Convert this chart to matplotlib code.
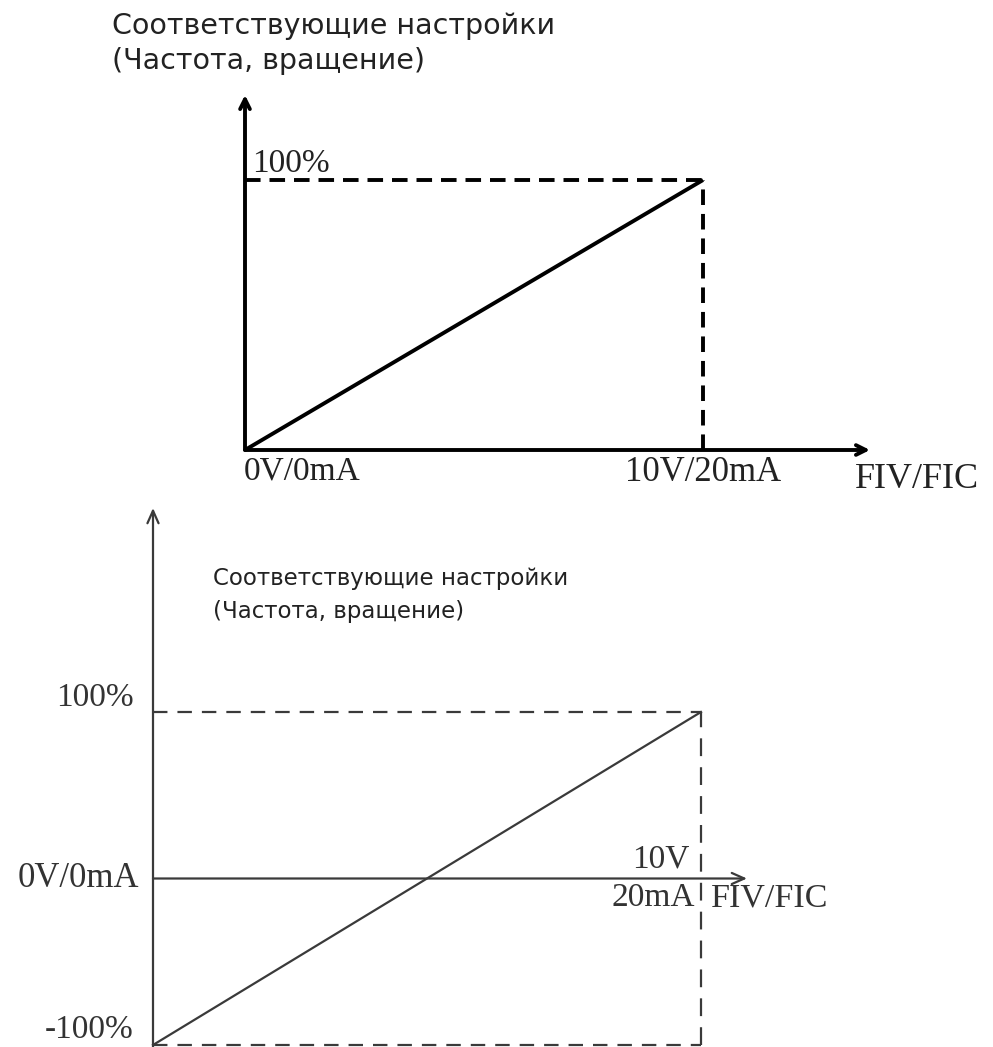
import matplotlib
matplotlib.use("Agg")
import matplotlib.pyplot as plt

# ---- data ----
x_input = [0, 10]            # input signal (V), 10V == 20mA
top_output = [0, 100]        # % setting, unipolar
bottom_output = [-100, 100]  # % setting, bipolar
title_text = "Соответствующие настройки\n(Частота, вращение)"
top_labels = ["0V/0mA", "10V/20mA", "FIV/FIC", "100%"]
bottom_labels = ["0V/0mA", "10V", "20mA", "FIV/FIC", "100%", "-100%"]

W, H = 993, 1047
fig = plt.figure(figsize=(W / 100, H / 100), dpi=100)
fig.patch.set_facecolor("white")


def px_axes(left, top, right, bottom):
    return fig.add_axes([left / W, 1 - bottom / H, (right - left) / W, (bottom - top) / H])


serif = "Liberation Serif"
sans = "DejaVu Sans"

# ================= TOP CHART =================
ax1 = px_axes(245, 95, 870, 450)
x1max = 10 * (870 - 245) / (703 - 245)
y1max = 100 * (450 - 95) / (450 - 180)
ax1.set_xlim(0, x1max)
ax1.set_ylim(0, y1max)
ax1.axis("off")
k1 = "black"
lw1 = 2.8
ax1.annotate("", xy=(x1max, 0), xytext=(0, 0),
             arrowprops=dict(arrowstyle="->,head_length=0.7,head_width=0.35", lw=lw1, color=k1,
                             shrinkA=0, shrinkB=0), annotation_clip=False)
ax1.annotate("", xy=(0, y1max), xytext=(0, 0),
             arrowprops=dict(arrowstyle="->,head_length=0.7,head_width=0.35", lw=lw1, color=k1,
                             shrinkA=0, shrinkB=0), annotation_clip=False)
ax1.plot([0, x_input[1]], [top_output[1]] * 2, color=k1, lw=lw1, dashes=(4, 2.3), clip_on=False)
ax1.plot([x_input[1]] * 2, [0, top_output[1]], color=k1, lw=lw1, dashes=(4, 2.3), clip_on=False)
ax1.plot(x_input, top_output, color=k1, lw=lw1, clip_on=False, solid_capstyle="butt")

ax1.annotate(top_labels[3], xy=(0, top_output[1]), xytext=(5, 1), textcoords="offset points",
             ha="left", va="bottom", fontsize=24, family=serif, color="#222222")
ax1.annotate(top_labels[0], xy=(0, 0), xytext=(-1, -4), textcoords="offset points",
             ha="left", va="top", fontsize=24, family=serif, color="#222222")
ax1.annotate(top_labels[1], xy=(x_input[1], 0), xytext=(0, -4), textcoords="offset points",
             ha="center", va="top", fontsize=25, family=serif, color="#222222")
ax1.annotate(top_labels[2], xy=(x1max, 0), xytext=(-11, -9), textcoords="offset points",
             ha="left", va="top", fontsize=26, family=serif, color="#222222")

fig.text(112 / W, 1 - 12 / H, title_text, ha="left", va="top", fontsize=20.5,
         family=sans, color="#222222", linespacing=1.3)

# ================= BOTTOM CHART =================
ax2 = px_axes(153, 508, 747, 1045)
ppu = (1045 - 712) / 200.0
x2max = 10 * (747 - 153) / (701 - 153)
y2max = 100 + (712 - 508) / ppu
ax2.set_xlim(0, x2max)
ax2.set_ylim(-100, y2max)
ax2.axis("off")
k2 = "#3a3a3a"
lw2 = 1.6
ax2.annotate("", xy=(x2max, 0), xytext=(0, 0),
             arrowprops=dict(arrowstyle="->,head_length=0.9,head_width=0.4", lw=lw2, color=k2,
                             shrinkA=0, shrinkB=0), annotation_clip=False)
ax2.annotate("", xy=(0, y2max), xytext=(0, -101.5),
             arrowprops=dict(arrowstyle="->,head_length=0.9,head_width=0.4", lw=lw2, color=k2,
                             shrinkA=0, shrinkB=0), annotation_clip=False)
ax2.plot([0, x_input[1]], [bottom_output[1]] * 2, color=k2, lw=lw2, dashes=(6.5, 4.5), clip_on=False)
ax2.plot([0, x_input[1]], [bottom_output[0]] * 2, color=k2, lw=lw2, dashes=(6.5, 4.5), clip_on=False)
ax2.plot([x_input[1]] * 2, [bottom_output[0], bottom_output[1]], color=k2, lw=lw2,
         dashes=(8, 5), clip_on=False)
ax2.plot(x_input, bottom_output, color=k2, lw=lw2, clip_on=False)

ax2.annotate(bottom_labels[4], xy=(0, bottom_output[1]), xytext=(-14, -1), textcoords="offset points",
             ha="right", va="bottom", fontsize=24, family=serif, color="#333333")
ax2.annotate(bottom_labels[5], xy=(0, bottom_output[0]), xytext=(-14, 0), textcoords="offset points",
             ha="right", va="bottom", fontsize=24, family=serif, color="#333333")
ax2.annotate(bottom_labels[0], xy=(0, 0), xytext=(-10, 0), textcoords="offset points",
             ha="right", va="center", fontsize=25, family=serif, color="#333333")
ax2.annotate(bottom_labels[1], xy=(x_input[1], 0), xytext=(-8, 3), textcoords="offset points",
             ha="right", va="bottom", fontsize=24, family=serif, color="#333333")
ax2.annotate(bottom_labels[2], xy=(x_input[1], 0), xytext=(-4, -3), textcoords="offset points",
             ha="right", va="top", fontsize=24, family=serif, color="#333333")
ax2.annotate(bottom_labels[3], xy=(x_input[1], 0), xytext=(7, -3), textcoords="offset points",
             ha="left", va="top", fontsize=24.5, family=serif, color="#333333")

fig.text(213 / W, 1 - 567 / H, title_text, ha="left", va="top", fontsize=16.5,
         family=sans, color="#222222", linespacing=1.55)

fig.savefig("out.png", dpi=100, facecolor="white")
